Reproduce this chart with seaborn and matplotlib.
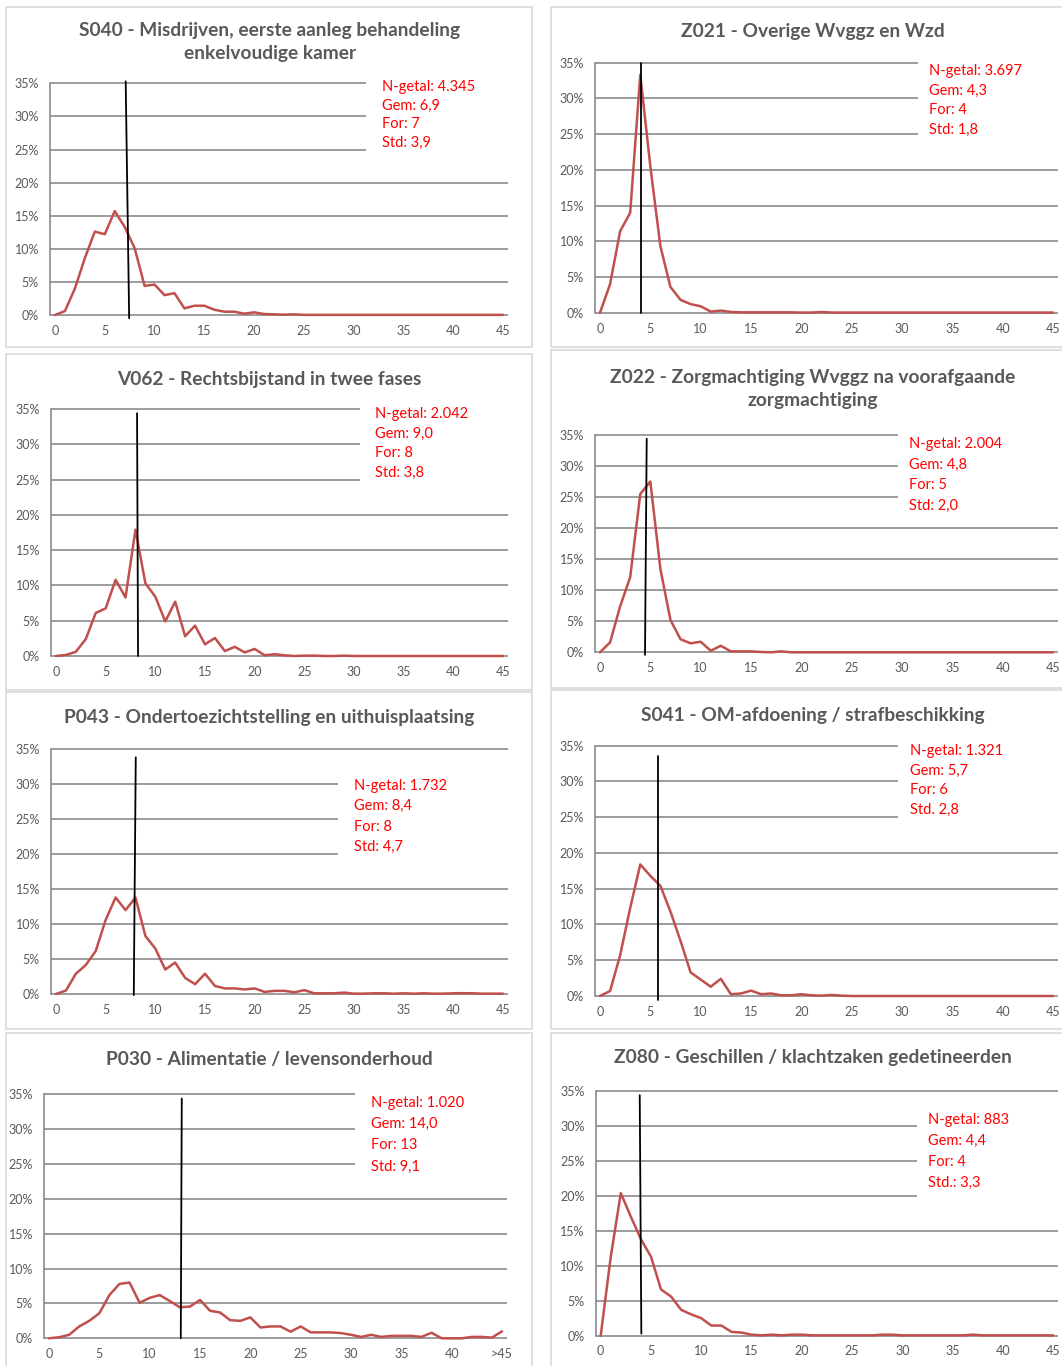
import matplotlib
matplotlib.use("Agg")
import matplotlib.pyplot as plt
from matplotlib.patches import Rectangle
import numpy as np
import pandas as pd
import seaborn as sns

# doorlooptijd (0..45, laatste klasse is ">45" bij P030)
days = list(range(46))

s040 = [0, 0.6, 4.0, 8.6, 12.6, 12.2, 15.7, 13.3, 10.1, 4.4, 4.6, 3.0, 3.3, 1.0, 1.4, 1.4,
        0.8, 0.5, 0.5, 0.2, 0.4, 0.15, 0.1, 0.05, 0.1, 0.02, 0.02, 0.02, 0.02, 0.02, 0.02,
        0.02, 0.02, 0.02, 0.02, 0.02, 0.02, 0.02, 0.02, 0.02, 0.02, 0.02, 0.02, 0.02, 0.02, 0.02]
z021 = [0, 4.0, 11.4, 14.0, 33.3, 20.5, 9.3, 3.6, 1.8, 1.2, 0.9, 0.15, 0.3, 0.1, 0.05, 0.05,
        0.05, 0.05, 0.05, 0.05, 0.02, 0.02, 0.1, 0.02, 0.02, 0.02, 0.02, 0.02, 0.02, 0.02, 0.02,
        0.02, 0.02, 0.02, 0.02, 0.02, 0.02, 0.02, 0.02, 0.02, 0.02, 0.02, 0.02, 0.02, 0.02, 0.02]
v062 = [0, 0.15, 0.6, 2.4, 6.1, 6.75, 10.8, 8.3, 17.9, 10.3, 8.4, 4.9, 7.7, 2.8, 4.3, 1.65,
        2.55, 0.7, 1.3, 0.5, 1.0, 0.1, 0.25, 0.1, 0, 0.05, 0.05, 0, 0, 0.05, 0,
        0, 0, 0, 0, 0, 0, 0, 0, 0, 0, 0, 0, 0, 0, 0]
z022 = [0, 1.6, 7.4, 12.1, 25.5, 27.5, 13.4, 5.2, 2.1, 1.45, 1.7, 0.25, 1.05, 0.15, 0.15, 0.15,
        0.05, 0, 0.15, 0, 0, 0, 0, 0, 0, 0, 0, 0, 0, 0, 0,
        0, 0, 0, 0, 0, 0, 0, 0, 0, 0, 0, 0, 0, 0, 0]
p043 = [0, 0.5, 2.9, 4.15, 6.15, 10.6, 13.8, 12.0, 13.8, 8.3, 6.5, 3.5, 4.5, 2.3, 1.4, 2.9,
        1.15, 0.8, 0.8, 0.65, 0.8, 0.3, 0.45, 0.45, 0.25, 0.55, 0.1, 0.1, 0.1, 0.2, 0.05,
        0.05, 0.1, 0.1, 0.05, 0.1, 0.05, 0.1, 0.05, 0.05, 0.1, 0.12, 0.1, 0.05, 0.05, 0.05]
s041 = [0, 0.7, 5.7, 12.3, 18.4, 16.8, 15.4, 11.8, 7.7, 3.3, 2.3, 1.3, 2.4, 0.25, 0.35, 0.75,
        0.25, 0.35, 0.1, 0.1, 0.25, 0.1, 0.05, 0.15, 0.05, 0, 0, 0, 0, 0, 0,
        0, 0, 0, 0, 0, 0, 0, 0, 0, 0, 0, 0, 0, 0, 0]
p030 = [0, 0.15, 0.5, 1.7, 2.5, 3.6, 6.2, 7.8, 8.0, 5.1, 5.8, 6.2, 5.35, 4.45, 4.55, 5.5,
        3.95, 3.7, 2.6, 2.5, 3.0, 1.55, 1.7, 1.7, 0.95, 1.7, 0.85, 0.85, 0.85, 0.75, 0.5,
        0.2, 0.5, 0.2, 0.35, 0.35, 0.35, 0.2, 0.8, 0, 0, 0, 0.2, 0.2, 0.1, 1.0]
z080 = [0, 11.3, 20.4, 17.0, 13.8, 11.3, 6.6, 5.6, 3.7, 3.05, 2.5, 1.45, 1.45, 0.55, 0.45, 0.15,
        0.05, 0.15, 0.05, 0.15, 0.15, 0.05, 0.05, 0.05, 0.05, 0.05, 0.05, 0.05, 0.15, 0.15, 0.05,
        0.05, 0.05, 0.05, 0.05, 0.05, 0.05, 0.15, 0.05, 0.05, 0.05, 0.05, 0.05, 0.05, 0.05, 0.05]

titles = [
    "S040 - Misdrijven, eerste aanleg behandeling\nenkelvoudige kamer",
    "Z021 - Overige Wvggz en Wzd",
    "V062 - Rechtsbijstand in twee fases",
    "Z022 - Zorgmachtiging Wvggz na voorafgaande\nzorgmachtiging",
    "P043 - Ondertoezichtstelling en uithuisplaatsing",
    "S041 - OM-afdoening / strafbeschikking",
    "P030 - Alimentatie / levensonderhoud",
    "Z080 - Geschillen / klachtzaken gedetineerden",
]
stats = [
    ["N-getal: 4.345", "Gem: 6,9", "For: 7", "Std: 3,9"],
    ["N-getal: 3.697", "Gem: 4,3", "For: 4", "Std: 1,8"],
    ["N-getal: 2.042", "Gem: 9,0", "For: 8", "Std: 3,8"],
    ["N-getal: 2.004", "Gem: 4,8", "For: 5", "Std: 2,0"],
    ["N-getal: 1.732", "Gem: 8,4", "For: 8", "Std: 4,7"],
    ["N-getal: 1.321", "Gem: 5,7", "For: 6", "Std. 2,8"],
    ["N-getal: 1.020", "Gem: 14,0", "For: 13", "Std: 9,1"],
    ["N-getal: 883", "Gem: 4,4", "For: 4", "Std.: 3,3"],
]
series = [s040, z021, v062, z022, p043, s041, p030, z080]

# hand-drawn reference line (slightly slanted in the original)
ref_x_top = [7.1, 4.04, 8.16, 4.64, 8.03, 5.72, 13.19, 3.88]
ref_x_bottom = [7.45, 4.04, 8.26, 4.47, 7.83, 5.72, 13.09, 4.04]
ref_y_top = [35.3, 35.0, 34.4, 34.4, 33.85, 33.5, 34.4, 34.4]
ref_y_bottom = [-0.5, 0.0, 0.0, -0.4, -0.15, -0.55, 0.0, 0.3]

x_labels = [str(v) for v in range(0, 45, 5)]

# layout in pixels: (x of day 0, x of day 45, y of 0%, y of 35%)
anchors = [
    (55, 503, 315, 83.3), (600, 1053, 312.7, 62.7),
    (56, 503, 656, 409), (600, 1053, 652.3, 435),
    (56, 503, 994, 749.3), (600, 1053, 996, 745.7),
    (49, 502, 1338.3, 1094.3), (600.7, 1053.3, 1335.7, 1091),
]
title_pos = [(270, 42), (813, 31), (269, 379), (813, 389),
             (269, 717), (813, 715), (269, 1060), (813, 1058)]
# stats text box: (x of text, y centre, left edge of white box, ylo, yhi) in data units
box_pos = [
    (32.8, 30.2, 31.2, 22.5, 36), (32.7, 29.7, 31.6, 22.5, 36),
    (32.1, 30.1, 30.6, 22.5, 36), (30.7, 28.6, 29.6, 22.5, 36),
    (30.0, 25.4, 28.4, 17.5, 32.5), (30.8, 30.1, 29.6, 22.5, 36),
    (32.0, 29.2, 30.4, 22.5, 36), (32.5, 26.3, 31.4, 17.5, 32.5),
]
box_linespacing = [1.43, 1.5, 1.5, 1.6, 1.6, 1.5, 1.68, 1.63]
frames = [
    (6, 7, 532, 347), (551, 7, 1075, 347),
    (6, 354, 532, 690), (551, 350, 1075, 688),
    (6, 692, 532, 1029), (551, 690, 1075, 1029),
    (6, 1033, 532, 1375), (551, 1033, 1075, 1375),
]

W, H = 1062, 1366
sns.set_style("white")
plt.rcParams['font.family'] = ['Lato', 'DejaVu Sans']

fig = plt.figure(figsize=(W / 100, H / 100), dpi=100)
fig.patch.set_facecolor("white")

for fx0, fy0, fx1, fy1 in frames:
    fig.add_artist(Rectangle((fx0 / W, 1 - fy1 / H), (fx1 - fx0) / W, (fy1 - fy0) / H,
                             transform=fig.transFigure, fill=False,
                             edgecolor="#d9d9d9", linewidth=1.2))

grid_color = "#868686"
text_gray = "#595959"
pad_y = 0.4

for i, vals in enumerate(series):
    x0p, x45p, y0p, y35p = anchors[i]
    unit = (x45p - x0p) / 45
    ppp = (y0p - y35p) / 35
    left = x0p - 0.5 * unit
    right = x45p + 0.5 * unit
    bottom = y0p + pad_y * ppp
    top = y35p - pad_y * ppp
    ax = fig.add_axes([left / W, 1 - bottom / H, (right - left) / W, (bottom - top) / H])
    ax.set_facecolor("none")

    df = pd.DataFrame({"dagen": days, "pct": vals})
    sns.lineplot(data=df, x="dagen", y="pct", ax=ax, color="#C0504D", linewidth=1.8, zorder=4)

    ax.set_xlim(-0.5, 45.5)
    ax.set_ylim(-pad_y, 35 + pad_y)
    ax.set_yticks(range(0, 40, 5))
    ax.set_yticklabels([f"{v}%" for v in range(0, 40, 5)])
    ax.set_xticks(range(0, 50, 5))
    ax.set_xticklabels(x_labels + ([">45"] if i == 6 else ["45"]))
    ax.tick_params(axis="both", length=0, labelsize=9, colors=text_gray)
    ax.tick_params(axis="y", pad=8)
    ax.tick_params(axis="x", pad=5)
    ax.set_xlabel("")
    ax.set_ylabel("")
    ax.yaxis.grid(True, color=grid_color, linewidth=1.15)
    ax.set_axisbelow(True)
    for s in ["top", "right", "bottom"]:
        ax.spines[s].set_visible(False)
    ax.spines["left"].set_color(grid_color)
    ax.spines["left"].set_linewidth(1.15)
    ax.spines["left"].set_bounds(0, 35)

    # reference line
    ax.plot([ref_x_top[i], ref_x_bottom[i]], [ref_y_top[i], ref_y_bottom[i]],
            color="black", linewidth=1.3, zorder=5, clip_on=False)

    # stats box (white fill hides the gridlines)
    tx, ty, bx, ylo, yhi = box_pos[i]
    ax.add_patch(Rectangle((bx, ylo), 46 - bx, yhi - ylo, facecolor="white",
                           edgecolor="none", zorder=3, clip_on=True))
    ax.text(tx, ty, "\n".join(stats[i]), color="#FF0000", fontsize=10.5,
            va="center", ha="left", linespacing=box_linespacing[i], zorder=6)

    tx_px, ty_px = title_pos[i]
    fig.text(tx_px / W, 1 - ty_px / H, titles[i], ha="center", va="center",
             fontsize=13.8, fontweight="bold", color=text_gray, linespacing=1.45)

fig.savefig("out.png", dpi=100, facecolor="white")
